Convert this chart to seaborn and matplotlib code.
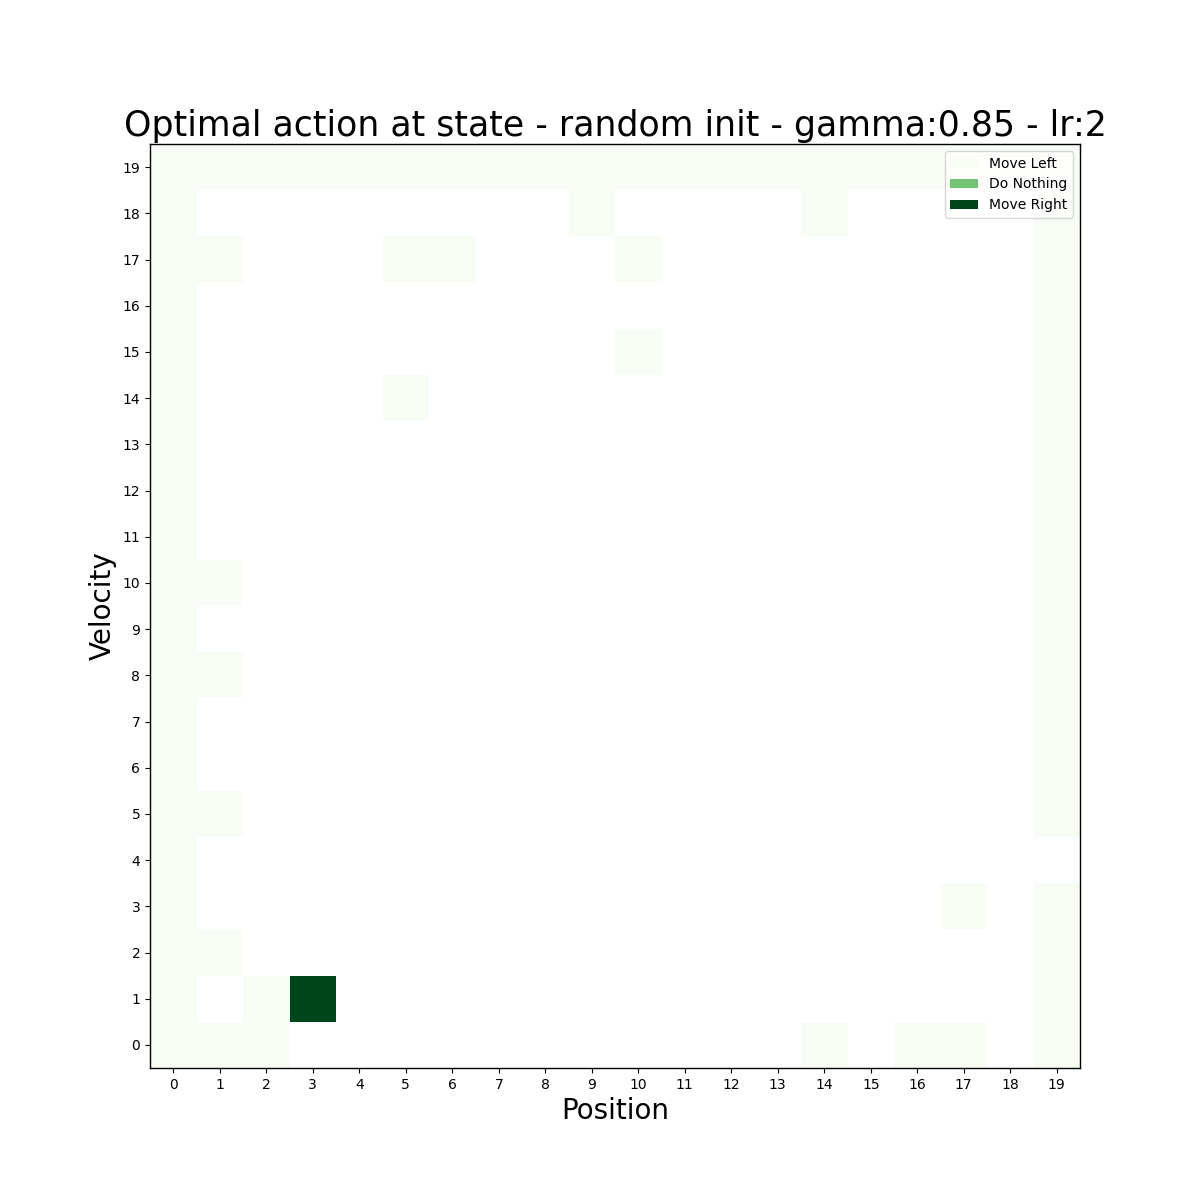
import numpy as np
import pandas as pd
import matplotlib
matplotlib.use("Agg")
import matplotlib.pyplot as plt
import seaborn as sns
from matplotlib.patches import Patch

# Action codes: L = Move Left (0), N = Do Nothing (1), R = Move Right (2), . = no value
positions = list(range(20))
velocities = list(range(20))
action_names = ["Move Left", "Do Nothing", "Move Right"]
title = "Optimal action at state - random init - gamma:0.85 - lr:2"

# rows listed from velocity 0 (bottom) to velocity 19 (top); columns are positions 0..19
row_v00 = "LLL...........L.LL.L"
row_v01 = "L.LR...............L"
row_v02 = "LL.................L"
row_v03 = "L................L.L"
row_v04 = "L..................."
row_v05 = "LL.................L"
row_v06 = "L..................L"
row_v07 = "L..................L"
row_v08 = "LL.................L"
row_v09 = "L..................L"
row_v10 = "LL.................L"
row_v11 = "L..................L"
row_v12 = "L..................L"
row_v13 = "L..................L"
row_v14 = "L....L.............L"
row_v15 = "L.........L........L"
row_v16 = "L..................L"
row_v17 = "LL...LL...L........L"
row_v18 = "L........L....L....L"
row_v19 = "LLLLLLLLLLLLLLLLLLLL"

rows = [row_v00, row_v01, row_v02, row_v03, row_v04, row_v05, row_v06, row_v07,
        row_v08, row_v09, row_v10, row_v11, row_v12, row_v13, row_v14, row_v15,
        row_v16, row_v17, row_v18, row_v19]
code = {"L": 0.0, "N": 1.0, "R": 2.0, ".": np.nan}
grid = np.array([[code[c] for c in r] for r in rows])
df = pd.DataFrame(grid, index=velocities, columns=positions)

fig, ax = plt.subplots(figsize=(12, 12), dpi=100)
sns.heatmap(df, cmap="Greens", vmin=0, vmax=2, cbar=False, ax=ax,
            xticklabels=True, yticklabels=True)
ax.invert_yaxis()
for s in ax.spines.values():
    s.set_visible(True)
    s.set_color("black")
    s.set_linewidth(1.0)
ax.tick_params(axis="both", labelsize=10, length=3.5, width=0.8)
plt.setp(ax.get_yticklabels(), rotation=0, va="center_baseline")
plt.setp(ax.get_xticklabels(), rotation=0)

cmap = plt.get_cmap("Greens")
handles = [Patch(facecolor=cmap(i / 2.0), label=name) for i, name in enumerate(action_names)]
ax.legend(handles=handles, loc="upper right", fontsize=10)

ax.set_title(title, fontsize=25)
ax.set_xlabel("Position", fontsize=20)
ax.set_ylabel("Velocity", fontsize=20)

fig.savefig("out.png", dpi=100)
